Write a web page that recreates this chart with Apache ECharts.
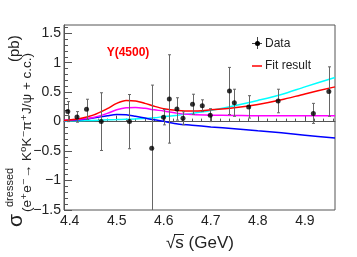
<!DOCTYPE html>
<html><head><meta charset="utf-8">
<script src="https://cdn.jsdelivr.net/npm/echarts@6/dist/echarts.min.js"></script>
<style>html,body{margin:0;padding:0;background:#fff}#c{width:357px;height:257px}</style>
</head><body><div id="c"></div>
<script>
// Data points
const energies = [4.3961,4.4156,4.4359,4.4671,4.5271,4.5745,4.5995,4.6119,4.6280,4.6409,4.6612,4.6819,4.6988,4.7397,4.7500,4.7805,4.8431,4.9180,4.9509];
const xsec     = [0.17,0.08,0.21,0.00,0.00,-0.45,0.075,0.385,0.215,0.057,0.295,0.27,0.11,0.52,0.32,0.25,0.35,0.14,0.51];
const xsecErr  = [0.17,0.09,0.17,0.49,0.46,1.07,0.13,0.75,0.19,0.11,0.17,0.10,0.11,0.40,0.23,0.19,0.20,0.17,0.42];
// Curves
const curveX      = [4.388,4.42,4.45,4.48,4.50,4.52,4.54,4.56,4.58,4.60,4.63,4.66,4.70,4.75,4.80,4.85,4.90,4.964];
const fitTotal    = [0.02,0.05,0.11,0.22,0.31,0.36,0.35,0.31,0.26,0.22,0.19,0.18,0.20,0.235,0.29,0.37,0.47,0.59];
const fitMagenta  = [0.02,0.04,0.07,0.14,0.20,0.235,0.24,0.225,0.20,0.18,0.14,0.12,0.11,0.105,0.10,0.10,0.10,0.10];
const fitBlue     = [0.02,0.03,0.06,0.10,0.12,0.115,0.09,0.06,0.03,0.005,-0.04,-0.06,-0.09,-0.12,-0.155,-0.19,-0.23,-0.28];
const fitCyan     = [0.01,0.015,0.02,0.03,0.035,0.04,0.045,0.055,0.065,0.085,0.11,0.14,0.19,0.27,0.36,0.46,0.59,0.75];
// Ticks
const xMajorTicks = [4.4,4.5,4.6,4.7,4.8,4.9];
const yMajorTicks = [-1.5,-1,-0.5,0,0.5,1,1.5];
const xMin = 4.388, xMax = 4.964, yMin = -1.5, yMax = 1.64;

const xMinorTicks = []; for (let k = 0; k <= 28; k++) { const v = +(4.4 + 0.02*k).toFixed(2); if (v <= xMax) xMinorTicks.push(v); }
const yMinorTicks = []; for (let k = 0; k <= 31; k++) { const v = +(-1.5 + 0.1*k).toFixed(1); if (v <= yMax) yMinorTicks.push(v); }

const fmt = v => (v < 0 ? '\u2212' : '') + String(Math.abs(v));
const zip = (xs, ys) => xs.map((x, i) => [x, ys[i]]);
const axisColor = '#555';
const lab = {fontSize: 14, color: '#222', fontFamily: 'Liberation Sans, Arial, sans-serif'};

const chart = echarts.init(document.getElementById('c'), null, {renderer: 'canvas'});
chart.setOption({
  animation: false,
  backgroundColor: '#fff',
  grid: {left: 64, right: 22, top: 25, bottom: 47, show: true, borderColor: axisColor, borderWidth: 1},
  xAxis: [
    {type: 'value', min: xMin, max: xMax, position: 'bottom',
     axisLine: {lineStyle: {color: axisColor}},
     axisTick: {inside: true, length: 6, customValues: xMajorTicks, lineStyle: {color: axisColor}},
     axisLabel: Object.assign({customValues: xMajorTicks, margin: 4, formatter: fmt}, lab),
     splitLine: {show: false}},
    {type: 'value', min: xMin, max: xMax, position: 'bottom',
     axisLine: {show: false},
     axisTick: {inside: true, length: 3, customValues: xMinorTicks, lineStyle: {color: axisColor}},
     axisLabel: {show: false}, splitLine: {show: false}}
  ],
  yAxis: [
    {type: 'value', min: yMin, max: yMax, position: 'left',
     axisLine: {show: true, lineStyle: {color: axisColor}},
     axisTick: {show: true, inside: true, length: 8, customValues: yMajorTicks, lineStyle: {color: axisColor}},
     axisLabel: Object.assign({customValues: yMajorTicks, margin: 3, formatter: fmt}, lab),
     splitLine: {show: false}},
    {type: 'value', min: yMin, max: yMax, position: 'left',
     axisLine: {show: false},
     axisTick: {show: true, inside: true, length: 4, customValues: yMinorTicks, lineStyle: {color: axisColor}},
     axisLabel: {show: false}, splitLine: {show: false}}
  ],
  series: [
    {type: 'line', data: zip(curveX, fitCyan), smooth: 0.3, showSymbol: false, lineStyle: {color: '#00ffff', width: 1.5}, z: 2},
    {type: 'line', data: zip(curveX, fitBlue), smooth: 0.3, showSymbol: false, lineStyle: {color: '#0000ff', width: 1.5}, z: 2},
    {type: 'line', data: zip(curveX, fitMagenta), smooth: 0.3, showSymbol: false, lineStyle: {color: '#ff00ff', width: 1.5}, z: 2},
    {type: 'line', data: zip(curveX, fitTotal), smooth: 0.3, showSymbol: false, lineStyle: {color: '#ff0000', width: 1.5}, z: 3},
    {type: 'custom', clip: true, z: 4,
     data: energies.map((x, i) => [x, xsec[i], xsecErr[i]]),
     renderItem: function (params, api) {
       const x = api.value(0), y = api.value(1), e = api.value(2);
       const t = api.coord([x, y + e]), b = api.coord([x, y - e]);
       const cx = Math.round(t[0]) + 0.5;
       const st = {stroke: '#666', lineWidth: 1};
       return {type: 'group', children: [
         {type: 'line', shape: {x1: cx, y1: t[1], x2: cx, y2: b[1]}, style: st},
         {type: 'line', shape: {x1: cx - 1.5, y1: t[1], x2: cx + 1.5, y2: t[1]}, style: st},
         {type: 'line', shape: {x1: cx - 1.5, y1: b[1], x2: cx + 1.5, y2: b[1]}, style: st}
       ]};
     }},
    {type: 'scatter', data: zip(energies, xsec), symbol: 'circle', symbolSize: 5, itemStyle: {color: '#000'}, z: 5}
  ],
  graphic: [
    // Legend
    {type: 'line', shape: {x1: 257.5, y1: 37, x2: 257.5, y2: 49}, style: {stroke: '#444', lineWidth: 1}},
    {type: 'line', shape: {x1: 252, y1: 43.5, x2: 262, y2: 43.5}, style: {stroke: '#444', lineWidth: 1}},
    {type: 'circle', shape: {cx: 257.5, cy: 43.5, r: 2.5}, style: {fill: '#000'}},
    {type: 'text', x: 265, y: 43.5, style: {text: 'Data', fontSize: 12, fill: '#222', fontFamily: 'Liberation Sans, Arial, sans-serif', textVerticalAlign: 'middle'}},
    {type: 'line', shape: {x1: 252, y1: 66, x2: 262, y2: 66}, style: {stroke: '#ff0000', lineWidth: 1.5}},
    {type: 'text', x: 265, y: 66, style: {text: 'Fit result', fontSize: 12, fill: '#222', fontFamily: 'Liberation Sans, Arial, sans-serif', textVerticalAlign: 'middle'}},
    // Label
    {type: 'text', x: 128, y: 53, style: {text: 'Y(4500)', fontSize: 12, fontWeight: 'bold', fill: '#ff0000', fontFamily: 'Liberation Sans, Arial, sans-serif', textAlign: 'center', textVerticalAlign: 'middle'}},
    // X title
    {type: 'text', x: 166, y: 243, style: {text: '\u221As (GeV)', fontSize: 17, fill: '#222', fontFamily: 'Liberation Sans, Arial, sans-serif', textVerticalAlign: 'middle'}},
    {type: 'line', shape: {x1: 174, y1: 234.5, x2: 184, y2: 234.5}, style: {stroke: '#222', lineWidth: 1}},
    // Y title (rotated)
    {type: 'text', x: 16, y: 227, rotation: Math.PI / 2, style: {text: '\u03C3', fontSize: 21, fill: '#222', fontFamily: 'Liberation Sans, Arial, sans-serif', textVerticalAlign: 'middle'}},
    {type: 'text', x: 10, y: 207, rotation: Math.PI / 2, style: {text: 'dressed', fontSize: 11, fill: '#222', fontFamily: 'Liberation Sans, Arial, sans-serif', textVerticalAlign: 'middle'}},
    {type: 'text', x: 27, y: 212, rotation: Math.PI / 2, style: {text: '(e\u207Ae\u207B\u2192 K\u2070K\u207B\u03C0\u207AJ/\u03C8 + c.c.)', fontSize: 13.5, fill: '#222', fontFamily: 'Liberation Sans, DejaVu Sans, sans-serif', textVerticalAlign: 'middle'}},
    {type: 'text', x: 15, y: 62, rotation: Math.PI / 2, style: {text: '(pb)', fontSize: 15, fill: '#222', fontFamily: 'Liberation Sans, Arial, sans-serif', textVerticalAlign: 'middle'}}
  ]
});
</script></body></html>
